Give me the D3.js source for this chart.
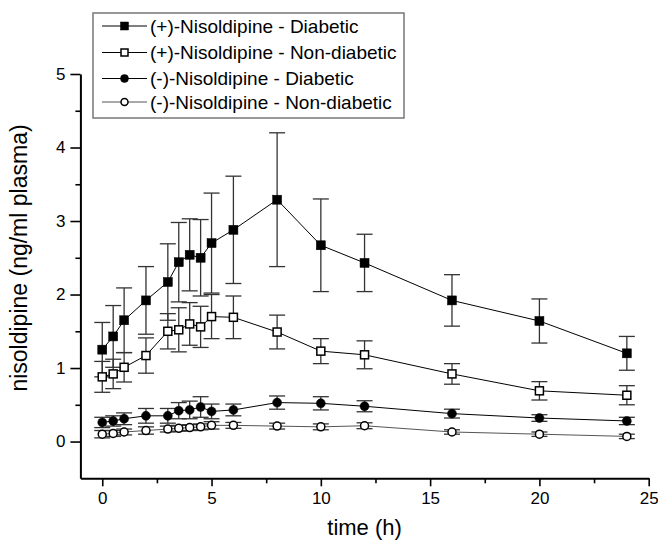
<!DOCTYPE html>
<html>
<head>
<meta charset="utf-8">
<script src="https://cdn.jsdelivr.net/npm/d3@7"></script>
<style>
  html, body { margin: 0; padding: 0; background: #fff; }
  svg { display: block; }
  text { font-family: "Liberation Sans", Arial, Helvetica, sans-serif; fill: #000; }
</style>
</head>
<body>
<svg id="chart" width="658" height="541"></svg>
<script>
// ---- data ----
const times = [0, 0.5, 1, 2, 3, 3.5, 4, 4.5, 5, 6, 8, 10, 12, 16, 20, 24];
const plusDiabetic = [1.25, 1.43, 1.65, 1.92, 2.17, 2.44, 2.54, 2.50, 2.70, 2.88, 3.29, 2.67, 2.43, 1.92, 1.64, 1.20];
const plusDiabeticErr = [0.37, 0.42, 0.44, 0.46, 0.52, 0.54, 0.49, 0.52, 0.68, 0.73, 0.91, 0.63, 0.39, 0.35, 0.30, 0.23];
const plusNonDiabetic = [0.88, 0.92, 1.01, 1.17, 1.50, 1.52, 1.60, 1.56, 1.70, 1.69, 1.49, 1.23, 1.18, 0.92, 0.69, 0.63];
const plusNonDiabeticErr = [0.21, 0.20, 0.20, 0.24, 0.24, 0.30, 0.29, 0.28, 0.30, 0.29, 0.23, 0.17, 0.19, 0.14, 0.125, 0.13];
const minusDiabetic = [0.26, 0.28, 0.31, 0.35, 0.35, 0.42, 0.43, 0.47, 0.41, 0.43, 0.53, 0.52, 0.48, 0.38, 0.32, 0.28];
const minusDiabeticErr = [0.07, 0.07, 0.08, 0.10, 0.10, 0.11, 0.12, 0.14, 0.10, 0.08, 0.09, 0.09, 0.075, 0.06, 0.045, 0.05];
const minusNonDiabetic = [0.10, 0.11, 0.13, 0.15, 0.17, 0.18, 0.19, 0.20, 0.22, 0.22, 0.21, 0.20, 0.215, 0.13, 0.10, 0.07];
const minusNonDiabeticErr = [0.05, 0.04, 0.04, 0.05, 0.04, 0.04, 0.04, 0.04, 0.05, 0.04, 0.04, 0.04, 0.04, 0.03, 0.03, 0.03];
const seriesNames = ["(+)-Nisoldipine - Diabetic", "(+)-Nisoldipine - Non-diabetic", "(-)-Nisoldipine - Diabetic", "(-)-Nisoldipine - Non-diabetic"];
const xTicks = [0, 5, 10, 15, 20, 25];
const xMinorTicks = [2.5, 7.5, 12.5, 17.5, 22.5];
const yTicks = [0, 1, 2, 3, 4, 5];
const yMinorTicks = [0.5, 1.5, 2.5, 3.5, 4.5];
const xTitle = "time (h)";
const yTitle = "nisoldipine (ng/ml plasma)";

// ---- layout ----
const svg = d3.select("#chart");
const x = d3.scaleLinear().domain([-1, 25]).range([80.4, 648.7]);
const y = d3.scaleLinear().domain([-0.5, 5]).range([478.3, 74]);

const series = [
  { name: seriesNames[0], vals: plusDiabetic, err: plusDiabeticErr, shape: "square", fill: "#000", line: "#000" },
  { name: seriesNames[1], vals: plusNonDiabetic, err: plusNonDiabeticErr, shape: "square", fill: "#fff", line: "#000" },
  { name: seriesNames[2], vals: minusDiabetic, err: minusDiabeticErr, shape: "circle", fill: "#000", line: "#000" },
  { name: seriesNames[3], vals: minusNonDiabetic, err: minusNonDiabeticErr, shape: "circle", fill: "#fff", line: "#555" }
];

// ---- axes ----
const axisFont = 17;
svg.append("g").attr("transform", `translate(0,${y.range()[0]})`)
  .call(d3.axisBottom(x).tickValues(xTicks).tickSize(8).tickSizeOuter(0).tickPadding(6).tickFormat(d3.format("d")));
svg.append("g").attr("transform", `translate(0,${y.range()[0]})`)
  .call(d3.axisBottom(x).tickValues(xMinorTicks).tickSize(5).tickSizeOuter(0).tickFormat(""))
  .select(".domain").remove();
svg.append("g").attr("transform", `translate(${x.range()[0]},0)`)
  .call(d3.axisLeft(y).tickValues(yTicks).tickSize(10).tickSizeOuter(0).tickPadding(5).tickFormat(d3.format("d")));
svg.append("g").attr("transform", `translate(${x.range()[0]},0)`)
  .call(d3.axisLeft(y).tickValues(yMinorTicks).tickSize(5).tickSizeOuter(0).tickFormat(""))
  .select(".domain").remove();

svg.selectAll(".domain").attr("stroke", "#000").attr("stroke-width", 2);
svg.selectAll(".tick line").attr("stroke", "#000").attr("stroke-width", 1.6);
svg.selectAll(".tick text").style("font-size", axisFont + "px").attr("fill", "#000");

svg.append("text").attr("x", (x.range()[0] + x.range()[1]) / 2).attr("y", 535)
  .attr("text-anchor", "middle").style("font-size", "22px").text(xTitle);
svg.append("text").attr("transform", `translate(27,258) rotate(-90)`)
  .attr("text-anchor", "middle").style("font-size", "23px").text(yTitle);

// ---- marks ----
function drawMarker(g, shape, fill, cx, cy, size) {
  if (shape === "square") {
    const s = fill === "#000" ? size : size - 1;
    g.append("rect").attr("x", cx - s / 2).attr("y", cy - s / 2).attr("width", s).attr("height", s)
      .attr("fill", fill).attr("stroke", "#000").attr("stroke-width", fill === "#000" ? 0.5 : 1.5);
  } else {
    g.append("circle").attr("cx", cx).attr("cy", cy).attr("r", fill === "#000" ? size / 2 : size / 2 - 0.5)
      .attr("fill", fill).attr("stroke", "#000").attr("stroke-width", fill === "#000" ? 0.5 : 1.5);
  }
}

const capW = 8;
series.forEach(s => {
  const g = svg.append("g");
  times.forEach((t, i) => {
    const cx = x(t), top = y(s.vals[i] + s.err[i]), bot = y(s.vals[i] - s.err[i]);
    g.append("line").attr("x1", cx).attr("x2", cx).attr("y1", top).attr("y2", bot).attr("stroke", "#333").attr("stroke-width", 1.3);
    g.append("line").attr("x1", cx - capW).attr("x2", cx + capW).attr("y1", top).attr("y2", top).attr("stroke", "#333").attr("stroke-width", 1.3);
    g.append("line").attr("x1", cx - capW).attr("x2", cx + capW).attr("y1", bot).attr("y2", bot).attr("stroke", "#333").attr("stroke-width", 1.3);
  });
});
series.forEach(s => {
  const g = svg.append("g");
  const line = d3.line().x((d, i) => x(times[i])).y(d => y(d));
  g.append("path").attr("d", line(s.vals)).attr("fill", "none").attr("stroke", s.line).attr("stroke-width", 1);
  times.forEach((t, i) => drawMarker(g, s.shape, s.fill, x(t), y(s.vals[i]), 9));
});

// ---- legend ----
const lg = svg.append("g");
lg.append("rect").attr("x", 93).attr("y", 13).attr("width", 311).attr("height", 105)
  .attr("fill", "#fff").attr("stroke", "#777").attr("stroke-width", 1.5);
const rowY = [26, 52.5, 78.5, 102];
series.forEach((s, i) => {
  const yy = rowY[i];
  lg.append("line").attr("x1", 102).attr("x2", 147).attr("y1", yy).attr("y2", yy).attr("stroke", s.line).attr("stroke-width", 1);
  drawMarker(lg, s.shape, s.fill, 124.5, yy, 8);
  lg.append("text").attr("x", 150).attr("y", yy).attr("dy", "0.36em").style("font-size", "19px").text(s.name);
});
</script>
</body>
</html>
